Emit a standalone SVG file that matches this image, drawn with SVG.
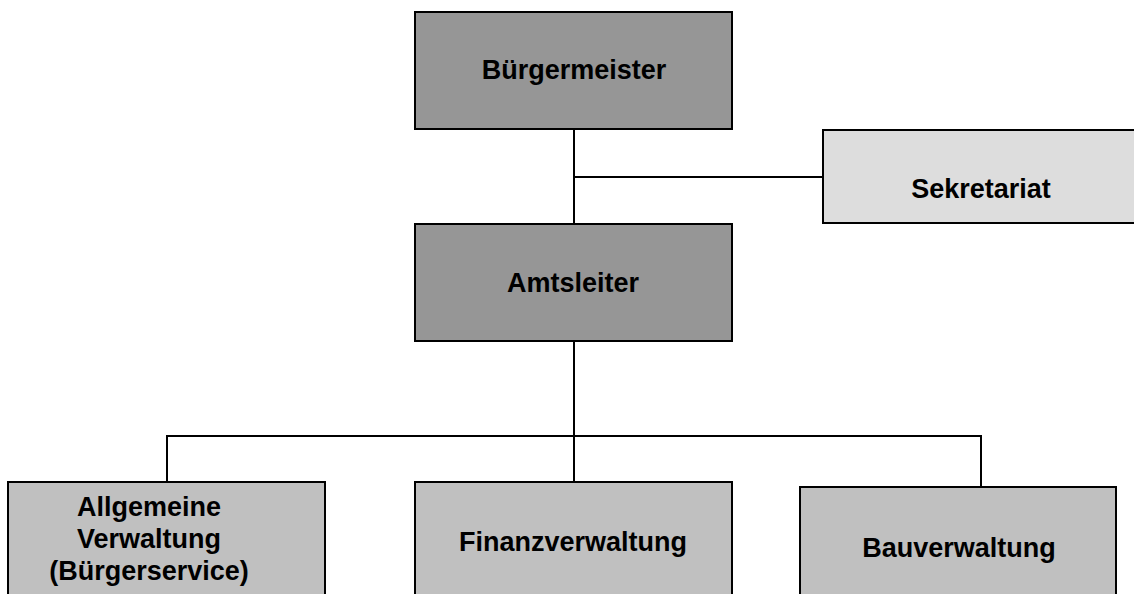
<svg xmlns="http://www.w3.org/2000/svg" width="1134" height="594" viewBox="0 0 1134 594">
<style>
.box{stroke:#000;stroke-width:2}
.dark{fill:#969696}
.light{fill:#dddddd}
.mid{fill:#c0c0c0}
.lbl{font-family:"Liberation Sans",Arial,sans-serif;font-weight:bold;font-size:27px;fill:#000;text-anchor:middle}
.conn{stroke:#000;stroke-width:2;fill:none}
</style>
<rect width="1134" height="594" fill="#fff"/>
<g id="connectors">
<path class="conn" d="M574 129 V224"/>
<path class="conn" d="M574 177 H823"/>
<path class="conn" d="M574 341 V482"/>
<path class="conn" d="M167 482 V436 H981 V487"/>
</g>
<g id="buergermeister">
<rect class="box dark" x="415" y="12" width="317" height="117"/>
<text class="lbl" x="574" y="79">Bürgermeister</text>
</g>
<g id="sekretariat">
<rect class="box light" x="823" y="130" width="320" height="93"/>
<text class="lbl" x="981" y="198">Sekretariat</text>
</g>
<g id="amtsleiter">
<rect class="box dark" x="415" y="224" width="317" height="117"/>
<text class="lbl" x="573" y="292">Amtsleiter</text>
</g>
<g id="allgemeine-verwaltung">
<rect class="box mid" x="8" y="482" width="317" height="120"/>
<text class="lbl" x="149" y="516">Allgemeine</text>
<text class="lbl" x="149" y="548">Verwaltung</text>
<text class="lbl" x="149" y="580">(Bürgerservice)</text>
</g>
<g id="finanzverwaltung">
<rect class="box mid" x="415" y="482" width="317" height="120"/>
<text class="lbl" x="573" y="551">Finanzverwaltung</text>
</g>
<g id="bauverwaltung">
<rect class="box mid" x="800" y="487" width="316" height="120"/>
<text class="lbl" x="959" y="557">Bauverwaltung</text>
</g>
</svg>
